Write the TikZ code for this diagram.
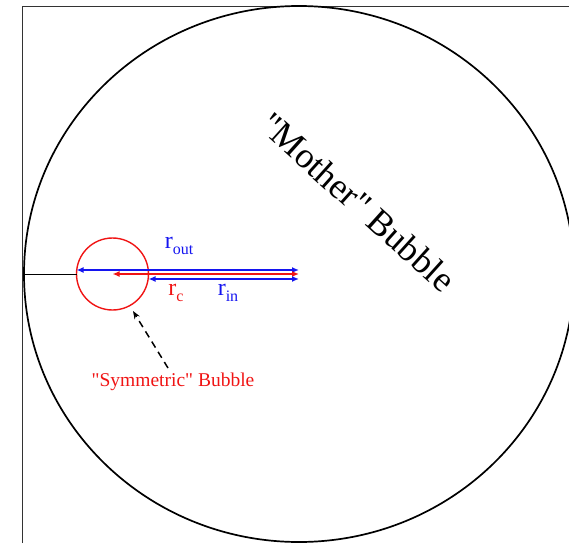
\documentclass[tikz,border=0pt]{standalone}
\usepackage{fontspec}
\setmainfont{Liberation Serif}[Ligatures=TeXOff]
\usetikzlibrary{arrows.meta}
\definecolor{myblue}{RGB}{20,20,240}
\definecolor{myred}{RGB}{240,20,20}
\tikzset{
  bluearrow/.style={draw=myblue,line width=1.8pt,{Latex[length=7pt,width=6pt]}-{Latex[length=7pt,width=6pt]}},
  redarrow/.style={draw=myred,line width=1.8pt,{Latex[length=7pt,width=6pt]}-{Latex[length=7pt,width=6pt]}},
  lbl/.style={inner sep=0pt,font=\fontsize{24}{24}\selectfont},
}
\newcommand{\subl}[2]{#1\raisebox{-6pt}{\fontsize{16}{16}\selectfont #2}}
\begin{document}
\begin{tikzpicture}[x=1pt,y=-1pt]
\useasboundingbox (0,0) rectangle (569,543);
% frame
\draw[line width=0.9pt,black!80] (22,543) -- (22,6) -- (569,6);
% mother bubble
\coordinate (mc) at (299,274);
\draw[line width=1.7pt] (mc) ellipse [x radius=275, y radius=268];
% symmetric bubble
\coordinate (sc) at (112.5,274);
\draw[myred,line width=1.4pt] (sc) circle [radius=36];
\coordinate (sl) at (76.5,270);
\coordinate (sr) at (148.5,279);
\coordinate (wall) at (23,274);
\draw[line width=1pt] (wall) -- (76.5,274);
% arrows
\draw[bluearrow] (sl) -- (mc |- sl);
\draw[redarrow] (sc) -- (mc);
\draw[bluearrow] (sr) -- (mc |- sr);
% labels
\node[lbl,text=myblue] (rout) at (179,246) {\subl{r}{out}};
\node[lbl,text=myred] (rc) at (176,293) {\subl{r}{c}};
\node[lbl,text=myblue] (rin) at (228,293) {\subl{r}{in}};
% symmetric label
\node[inner sep=0pt,text=myred,font=\fontsize{19.5}{19.5}\selectfont] (sym) at (173,382) {"Symmetric" Bubble};
\coordinate (tail) at (168,368);
\coordinate (tip) at (133,311);
\draw[line width=1.5pt,dash pattern=on 7pt off 5pt,-{Stealth[length=8pt,width=6pt]}] (tail) -- (tip);
% mother label
\node[inner sep=0pt,rotate=-42,font=\fontsize{36}{36}\selectfont] (moth) at (358,202) {"Mother" Bubble};
\end{tikzpicture}
\end{document}
